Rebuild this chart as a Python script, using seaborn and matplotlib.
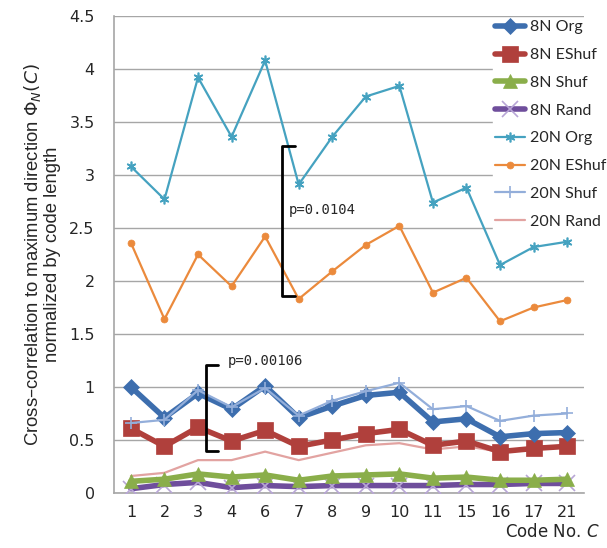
import numpy as np
import pandas as pd
import matplotlib
matplotlib.use("Agg")
import matplotlib.pyplot as plt
import seaborn as sns

# Data
codes = ["1", "2", "3", "4", "6", "7", "8", "9", "10", "11", "15", "16", "17", "21"]

n8_org = [1.00, 0.71, 0.94, 0.79, 1.01, 0.71, 0.82, 0.92, 0.95, 0.67, 0.70, 0.53, 0.56, 0.57]
n8_eshuf = [0.61, 0.44, 0.62, 0.49, 0.59, 0.44, 0.50, 0.56, 0.60, 0.45, 0.49, 0.39, 0.42, 0.44]
n8_shuf = [0.11, 0.13, 0.18, 0.15, 0.17, 0.12, 0.16, 0.17, 0.18, 0.14, 0.15, 0.12, 0.12, 0.13]
n8_rand = [0.04, 0.08, 0.10, 0.05, 0.07, 0.06, 0.07, 0.07, 0.07, 0.07, 0.08, 0.08, 0.09, 0.09]
n20_org = [3.08, 2.77, 3.92, 3.36, 4.08, 2.91, 3.36, 3.74, 3.84, 2.74, 2.88, 2.15, 2.32, 2.37]
n20_eshuf = [2.36, 1.64, 2.25, 1.95, 2.42, 1.83, 2.09, 2.34, 2.52, 1.89, 2.03, 1.62, 1.75, 1.82]
n20_shuf = [0.66, 0.69, 0.97, 0.81, 0.99, 0.73, 0.87, 0.96, 1.04, 0.79, 0.82, 0.68, 0.73, 0.75]
n20_rand = [0.16, 0.19, 0.31, 0.31, 0.39, 0.31, 0.38, 0.45, 0.47, 0.41, 0.44, 0.39, 0.43, 0.45]

sns.set_style("white")
plt.rcParams["font.family"] = ["DejaVu Sans"]

pos = np.arange(len(codes))

# label, values, color, linewidth, marker, markersize, marker color, zorder
series = [
    ("20N Rand", n20_rand, "#E2A3A1", 1.6, None, 0, None, 2),
    ("20N Shuf", n20_shuf, "#93AEDA", 1.6, "+", 8, "#93AEDA", 4),
    ("8N Rand", n8_rand, "#6F4E9C", 4.0, "x", 11, "#B8A6D6", 3),
    ("8N Shuf", n8_shuf, "#8AAE4A", 4.0, "^", 10, "#8AAE4A", 3),
    ("8N EShuf", n8_eshuf, "#B0403C", 4.0, "s", 11, "#B0403C", 3),
    ("8N Org", n8_org, "#3D6EAE", 4.0, "D", 8, "#3D6EAE", 3),
    ("20N EShuf", n20_eshuf, "#EB8A3C", 1.6, "o", 5, "#EB8A3C", 4),
    ("20N Org", n20_org, "#45A2C0", 1.6, (6, 2, 0), 7, "#45A2C0", 4),
]

fig = plt.figure(figsize=(6.07, 5.48), dpi=100)
ax = fig.add_axes([0.188, 0.1004, 0.774, 0.8705])

handles = {}
for label, vals, color, lw, marker, ms, mcolor, z in series:
    df = pd.DataFrame({"x": pos, "y": vals})
    sns.lineplot(data=df, x="x", y="y", ax=ax, color=color, linewidth=lw,
                 marker=marker if marker else "", markersize=ms,
                 markerfacecolor=mcolor, markeredgecolor=mcolor,
                 markeredgewidth=1.2 if marker in ("+", "x", (6, 2, 0)) else 0.5,
                 zorder=z, label=label)
    handles[label] = ax.lines[-1]

ax.set_xlim(-0.5, len(codes) - 0.5)
ax.set_ylim(0, 4.5)
ax.set_yticks(np.arange(0, 4.6, 0.5))
ax.set_yticklabels(["0", "0.5", "1", "1.5", "2", "2.5", "3", "3.5", "4", "4.5"])
ax.set_xticks(pos)
ax.set_xticklabels(codes)
ax.set_xticks(np.arange(-0.5, len(codes), 1.0), minor=True)
ax.tick_params(axis="x", which="major", length=0, pad=9, labelsize=11.5)
ax.tick_params(axis="x", which="minor", length=5, color="#A6A6A6", direction="out")
ax.tick_params(axis="y", length=5, color="#A6A6A6", labelsize=11.5, pad=9)
ax.yaxis.grid(True, color="#A6A6A6", linewidth=1.0)
ax.set_axisbelow(True)
for s in ["top", "right"]:
    ax.spines[s].set_visible(False)
for s in ["left", "bottom"]:
    ax.spines[s].set_color("#A6A6A6")
    ax.spines[s].set_linewidth(1.2)
ax.set_xlabel("")
ax.set_ylabel("Cross\u2013correlation to maximum direction $\\Phi_N(C)$\nnormalized by code length",
              fontsize=13.3, family="Liberation Sans", labelpad=6, linespacing=1.1)

# Significance brackets
ax.plot([4.9, 4.5, 4.5, 4.9], [3.27, 3.27, 1.86, 1.86], color="black", lw=2, zorder=6)
ax.text(4.7, 2.63, "p=0.0104", fontsize=10, family="DejaVu Sans Mono", zorder=6)
ax.plot([2.6, 2.25, 2.25, 2.6], [1.21, 1.21, 0.40, 0.40], color="black", lw=2, zorder=6)
ax.text(2.9, 1.21, "p=0.00106", fontsize=10, family="DejaVu Sans Mono", zorder=6)

order = ["8N Org", "8N EShuf", "8N Shuf", "8N Rand", "20N Org", "20N EShuf", "20N Shuf", "20N Rand"]
leg = ax.legend([handles[k] for k in order], order, loc="upper left",
                bbox_to_anchor=(0.813, 0.966), bbox_transform=fig.transFigure,
                frameon=True, fancybox=False, edgecolor="white", facecolor="white",
                framealpha=1, handlelength=1.9, handletextpad=0.3, labelspacing=0.85,
                borderpad=0.1, borderaxespad=0, prop={"family": "Lato", "size": 11.5})
leg.set_zorder(10)

fig.text(0.988, 0.012, "Code No. $C$", ha="right", va="bottom", fontsize=12,
         family="DejaVu Sans")

fig.savefig("out.png", dpi=100)
